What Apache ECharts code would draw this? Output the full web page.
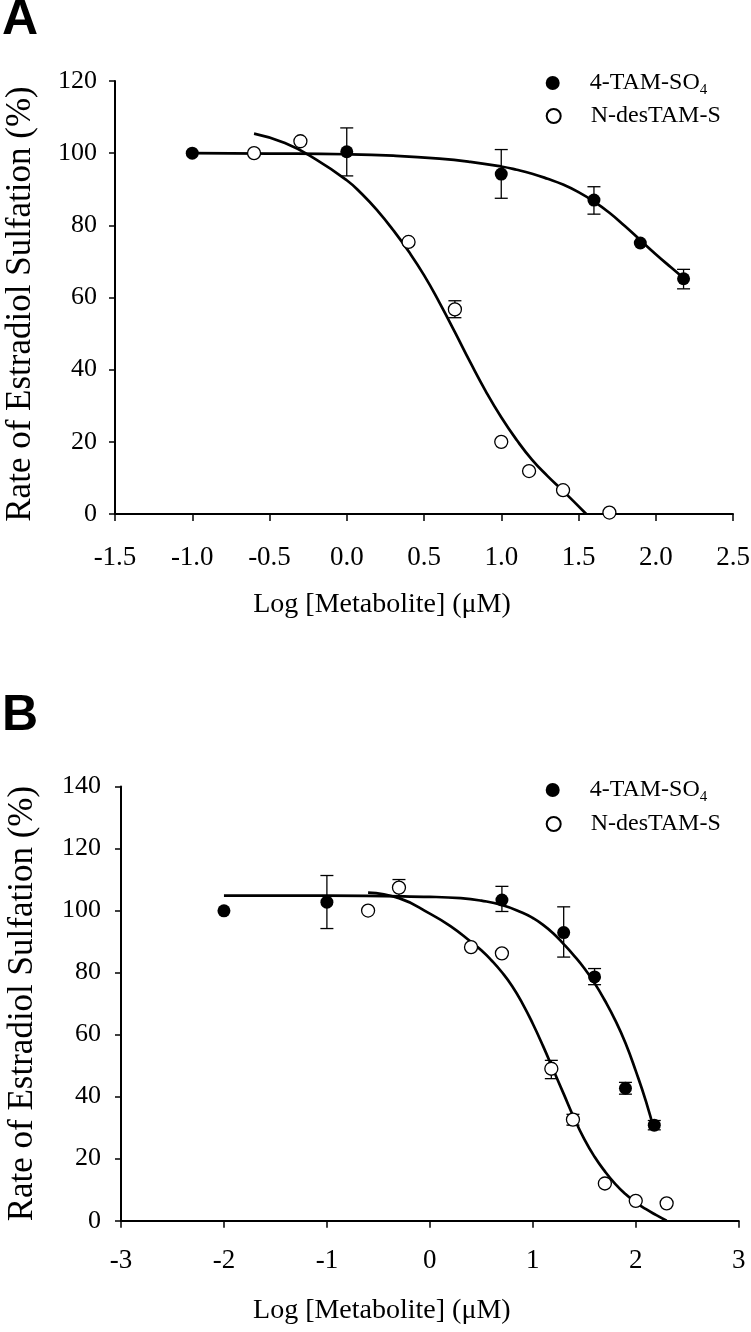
<!DOCTYPE html>
<html>
<head>
<meta charset="utf-8">
<script src="https://cdn.jsdelivr.net/npm/echarts@6/dist/echarts.min.js"></script>
<style>
html,body{margin:0;padding:0;background:#fff;}
#chart{width:751px;height:1332px;}
</style>
</head>
<body>
<div id="chart"></div>
<script>
// ---------- Panel A data ----------
const aFilledX = [-1.0, 0.0, 1.0, 1.6, 1.9, 2.18];
const aFilledY = [100, 100.4, 94.2, 87.0, 75.1, 65.2];
const aFilledErrLo = [null, 93.7, 87.5, 83.1, null, 62.4];
const aFilledErrHi = [null, 107.0, 101.0, 90.7, null, 67.8];

const aOpenX = [-0.6, -0.3, 0.4, 0.7, 1.0, 1.18, 1.4, 1.7];
const aOpenY = [100, 103.3, 75.4, 56.7, 20.0, 11.9, 6.6, 0.4];
const aOpenErrLo = [null, null, null, 54.4, null, null, null, null];
const aOpenErrHi = [null, null, null, 59.1, null, null, null, null];

const aFilledCurveX = [-1.0, -0.5, 0.0, 0.3, 0.6, 0.8, 1.0, 1.1, 1.2, 1.3, 1.4, 1.5, 1.6, 1.7, 1.8, 1.9, 2.0, 2.1, 2.18];
const aFilledCurveY = [100, 99.9, 99.7, 99.3, 98.5, 97.6, 96.3, 95.4, 94.3, 92.9, 91.3, 89.2, 86.6, 83.5, 79.8, 75.9, 72.0, 68.3, 65.4];
const aOpenCurveX = [-0.6, -0.4, -0.2, 0.0, 0.1, 0.2, 0.3, 0.4, 0.5, 0.6, 0.7, 0.8, 0.9, 1.0, 1.1, 1.2, 1.3, 1.4, 1.55];
const aOpenCurveY = [105.4, 102.8, 98.3, 92.5, 88.6, 84.0, 78.7, 72.8, 66.2, 58.6, 50.4, 42.0, 34.0, 26.8, 20.5, 15.0, 10.5, 6.4, 0];

const aXTicks = {min: -1.5, max: 2.5, interval: 0.5};
const aYTicks = {min: 0, max: 120, interval: 20};

// ---------- Panel B data ----------
const bFilledX = [-2, -1, 0.7, 1.3, 1.6, 1.9, 2.18];
const bFilledY = [99.9, 102.7, 103.4, 92.9, 78.6, 42.7, 30.8];
const bFilledErrLo = [null, 94.2, 99.7, 85.0, 76.1, 40.8, 29.3];
const bFilledErrHi = [null, 111.3, 107.8, 101.2, 81.3, 44.6, 32.3];

const bOpenX = [-0.6, -0.3, 0.4, 0.7, 1.18, 1.39, 1.7, 2.0, 2.3];
const bOpenY = [100, 107.4, 88.2, 86.2, 49.0, 32.6, 12.0, 6.4, 5.6];
const bOpenErrLo = [null, 104.7, null, null, 45.8, 30.8, null, null, null];
const bOpenErrHi = [null, 110.0, null, null, 51.7, 34.3, null, null, null];

const bFilledCurveX = [-2, -1, 0, 0.3, 0.5, 0.7, 0.9, 1.0, 1.1, 1.2, 1.3, 1.4, 1.5, 1.6, 1.7, 1.8, 1.9, 2.0, 2.1, 2.18];
const bFilledCurveY = [104.8, 104.8, 104.4, 104.0, 103.2, 101.8, 99.3, 97.6, 95.4, 92.6, 89.2, 85.5, 81.4, 76.6, 71.0, 64.7, 57.3, 48.3, 38.4, 29.0];
const bOpenCurveX = [-0.6, -0.3, 0.0, 0.2, 0.4, 0.5, 0.6, 0.7, 0.8, 0.9, 1.0, 1.1, 1.2, 1.3, 1.4, 1.5, 1.6, 1.7, 1.8, 1.9, 2.0, 2.1, 2.2, 2.3];
const bOpenCurveY = [105.8, 104.0, 99.0, 95.0, 89.9, 87.2, 83.9, 80.1, 75.6, 70.0, 63.5, 56.3, 48.6, 40.9, 33.2, 26.3, 20.6, 15.9, 11.9, 8.6, 5.9, 3.7, 1.8, 0];

const bXTicks = {min: -3, max: 3, interval: 1};
const bYTicks = {min: 0, max: 140, interval: 20};

const seriesNames = ['4-TAM-SO4', 'N-desTAM-S'];
const xTitle = 'Log [Metabolite] (\u03bcM)';
const yTitle = 'Rate of Estradiol Sulfation (%)';
const panelLabels = ['A', 'B'];

// ---------- helpers ----------
const SERIF = '"Liberation Serif", "Times New Roman", serif';
const zip = (xs, ys) => xs.map((x, i) => [x, ys[i]]);
const errData = (xs, lo, hi) => xs.map((x, i) => lo[i] == null ? null : [x, lo[i], hi[i]]).filter(d => d);

function errRender(params, api) {
  const x = api.value(0), lo = api.value(1), hi = api.value(2);
  const p1 = api.coord([x, lo]), p2 = api.coord([x, hi]);
  const w = 6.5;
  const st = {stroke: '#000', lineWidth: 1.3};
  return {type: 'group', children: [
    {type: 'line', shape: {x1: p1[0], y1: p1[1], x2: p2[0], y2: p2[1]}, style: st},
    {type: 'line', shape: {x1: p1[0] - w, y1: p1[1], x2: p1[0] + w, y2: p1[1]}, style: st},
    {type: 'line', shape: {x1: p2[0] - w, y1: p2[1], x2: p2[0] + w, y2: p2[1]}, style: st}
  ]};
}

function xAxisDef(grid, t, fmt, margin, nameGap, padRight) {
  return {
    type: 'value', gridIndex: grid, min: t.min, max: t.max, interval: t.interval,
    axisLine: {onZero: false, lineStyle: {color: '#000', width: 2}},
    axisTick: {length: 7, lineStyle: {color: '#000', width: 1.5}},
    axisLabel: {color: '#000', fontFamily: SERIF, fontSize: 27, margin: margin, formatter: fmt},
    splitLine: {show: false},
    name: xTitle, nameLocation: 'middle', nameGap: nameGap,
    nameTextStyle: {color: '#000', fontFamily: SERIF, fontSize: 28, padding: [0, padRight, 0, 0]}
  };
}
function yAxisDef(grid, t, margin, nameGap, padRight) {
  return {
    type: 'value', gridIndex: grid, min: t.min, max: t.max, interval: t.interval,
    axisLine: {show: true, onZero: false, lineStyle: {color: '#000', width: 2}},
    axisTick: {show: true, length: 6, lineStyle: {color: '#000', width: 1.5}},
    axisLabel: {color: '#000', fontFamily: SERIF, fontSize: 26, margin: margin},
    splitLine: {show: false},
    name: yTitle, nameLocation: 'middle', nameGap: nameGap, nameRotate: 90,
    nameTextStyle: {color: '#000', fontFamily: SERIF, fontSize: 35, padding: [0, padRight, 0, 0]}
  };
}

function panelSeries(idx, fX, fY, fLo, fHi, oX, oY, oLo, oHi, fcX, fcY, ocX, ocY) {
  const base = {xAxisIndex: idx, yAxisIndex: idx, animation: false, silent: true};
  return [
    Object.assign({type: 'line', data: zip(fcX, fcY), smooth: 0.5, showSymbol: false, symbol: 'none',
      lineStyle: {color: '#000', width: 2.7}, z: 2}, base),
    Object.assign({type: 'line', data: zip(ocX, ocY), smooth: 0.5, showSymbol: false, symbol: 'none',
      lineStyle: {color: '#000', width: 2.7}, z: 2}, base),
    Object.assign({type: 'custom', renderItem: errRender, data: errData(fX, fLo, fHi),
      encode: {x: 0, y: [1, 2]}, z: 3}, base),
    Object.assign({type: 'custom', renderItem: errRender, data: errData(oX, oLo, oHi),
      encode: {x: 0, y: [1, 2]}, z: 3}, base),
    Object.assign({type: 'scatter', name: seriesNames[0], data: zip(fX, fY), symbol: 'circle', symbolSize: 13,
      itemStyle: {color: '#000', opacity: 1}, z: 4}, base),
    Object.assign({type: 'scatter', name: seriesNames[1], data: zip(oX, oY), symbol: 'circle', symbolSize: 13,
      itemStyle: {color: '#fff', borderColor: '#000', borderWidth: 1.3, opacity: 1}, z: 4}, base)
  ];
}

function legendDef(name, left, top) {
  return {
    data: [name], left: left, top: top, orient: 'vertical', padding: 0,
    itemWidth: 14, itemHeight: 14, selectedMode: false,
    formatter: n => n === seriesNames[0] ? '{g|}{t|4-TAM-SO}{s|4}' : '{g|}{t|N-desTAM-S}',
    textStyle: {
      color: '#000', fontFamily: SERIF, fontSize: 24,
      rich: {
        g: {width: 25},
        t: {color: '#000', fontFamily: SERIF, fontSize: 24},
        s: {color: '#000', fontFamily: SERIF, fontSize: 15, padding: [14, 0, 0, 0]}
      }
    }
  };
}

const chart = echarts.init(document.getElementById('chart'), null, {renderer: 'canvas'});
chart.setOption({
  backgroundColor: '#fff',
  animation: false,
  grid: [
    {left: 115, top: 81, width: 618, height: 433, outerBoundsMode: 'none', containLabel: false},
    {left: 121, top: 786.5, width: 617.7, height: 434.2, outerBoundsMode: 'none', containLabel: false}
  ],
  xAxis: [
    xAxisDef(0, aXTicks, v => v.toFixed(1), 30, 77, 84),
    xAxisDef(1, bXTicks, v => String(v), 27, 76, 96)
  ],
  yAxis: [
    yAxisDef(0, aYTicks, 18, 77, 13),
    yAxisDef(1, bYTicks, 20, 81, 0)
  ],
  legend: [
    legendDef(seriesNames[0], 545.7, 71),
    legendDef(seriesNames[1], 545.7, 104),
    legendDef(seriesNames[0], 545.7, 778),
    legendDef(seriesNames[1], 545.7, 812)
  ],
  graphic: [
    {type: 'text', x: 2, y: 20, style: {text: panelLabels[0], font: 'bold 50px "Liberation Sans", Arial, sans-serif', fill: '#000', verticalAlign: 'middle'}},
    {type: 'text', x: 2, y: 716, style: {text: panelLabels[1], font: 'bold 50px "Liberation Sans", Arial, sans-serif', fill: '#000', verticalAlign: 'middle'}}
  ],
  series: [].concat(
    panelSeries(0, aFilledX, aFilledY, aFilledErrLo, aFilledErrHi, aOpenX, aOpenY, aOpenErrLo, aOpenErrHi,
      aFilledCurveX, aFilledCurveY, aOpenCurveX, aOpenCurveY),
    panelSeries(1, bFilledX, bFilledY, bFilledErrLo, bFilledErrHi, bOpenX, bOpenY, bOpenErrLo, bOpenErrHi,
      bFilledCurveX, bFilledCurveY, bOpenCurveX, bOpenCurveY)
  )
});
</script>
</body>
</html>
